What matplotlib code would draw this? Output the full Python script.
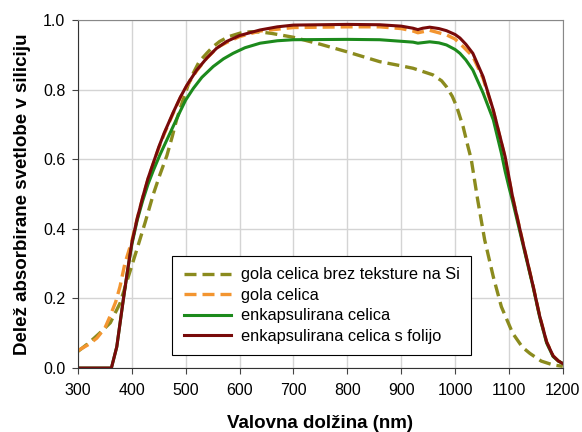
import matplotlib
matplotlib.use("Agg")
import matplotlib.pyplot as plt
import numpy as np

plt.rcParams['font.family'] = ['Liberation Sans', 'DejaVu Sans']

# gola celica brez teksture na Si
wl_a = [300, 320, 340, 360, 378, 393, 409, 425, 440, 452, 465, 475, 483, 495, 505, 514, 525, 539, 550, 563, 580,
        601, 620, 640, 660, 700, 750, 800, 860, 900, 922, 959, 975, 984, 995, 1003, 1015, 1024, 1030, 1042, 1055,
        1071, 1086, 1107, 1125, 1139, 1160, 1182, 1200]
val_a = [0.048, 0.072, 0.1, 0.13, 0.186, 0.26, 0.339, 0.42, 0.5, 0.555, 0.61, 0.665, 0.713, 0.77, 0.815, 0.847,
         0.88, 0.904, 0.922, 0.938, 0.952, 0.962, 0.966, 0.965, 0.961, 0.95, 0.93, 0.908, 0.88, 0.868, 0.861, 0.842,
         0.825, 0.808, 0.78, 0.751, 0.693, 0.636, 0.6, 0.483, 0.368, 0.262, 0.176, 0.1, 0.06, 0.042, 0.02, 0.009,
         0.005]

# gola celica
wl_b = [300, 320, 335, 350, 359, 370, 378, 387, 395, 400, 410, 420, 430, 440, 450, 460, 477, 490, 502, 520, 539,
        560, 576, 600, 638, 700, 800, 860, 900, 922, 931, 953, 984, 1000, 1015, 1033, 1052, 1071, 1090, 1107, 1126,
        1145, 1157, 1170, 1182, 1192, 1200]
val_b = [0.05, 0.068, 0.086, 0.115, 0.147, 0.19, 0.234, 0.3, 0.34, 0.365, 0.43, 0.488, 0.542, 0.588, 0.632, 0.672,
         0.733, 0.776, 0.81, 0.853, 0.89, 0.922, 0.935, 0.952, 0.968, 0.978, 0.98, 0.98, 0.975, 0.968, 0.963, 0.97,
         0.957, 0.945, 0.923, 0.895, 0.832, 0.738, 0.622, 0.49, 0.36, 0.235, 0.15, 0.075, 0.035, 0.02, 0.013]

# enkapsulirana celica
wl_c = [300, 362, 372, 384, 392, 400, 410, 420, 430, 440, 452, 470, 489, 500, 514, 530, 551, 570, 588, 610, 638,
        670, 700, 800, 860, 922, 931, 953, 970, 984, 1000, 1009, 1020, 1033, 1052, 1071, 1086, 1093, 1100, 1107,
        1126, 1145, 1157, 1170, 1182, 1192, 1200]
val_c = [0.0, 0.0, 0.061, 0.195, 0.28, 0.355, 0.425, 0.48, 0.528, 0.568, 0.612, 0.672, 0.735, 0.77, 0.803, 0.835,
         0.866, 0.888, 0.904, 0.92, 0.933, 0.94, 0.943, 0.944, 0.943, 0.936, 0.933, 0.937, 0.934, 0.928, 0.915,
         0.904, 0.885, 0.856, 0.79, 0.713, 0.617, 0.565, 0.52, 0.478, 0.355, 0.232, 0.147, 0.072, 0.033, 0.02, 0.013]

# enkapsulirana celica s folijo
wl_d = [300, 362, 372, 384, 392, 400, 410, 420, 430, 440, 450, 460, 477, 490, 502, 520, 539, 557, 576, 600, 638,
        670, 700, 800, 860, 900, 922, 931, 940, 953, 970, 984, 1000, 1009, 1020, 1033, 1052, 1071, 1093, 1107, 1126,
        1145, 1157, 1170, 1182, 1192, 1200]
val_d = [0.0, 0.0, 0.061, 0.195, 0.28, 0.36, 0.43, 0.49, 0.545, 0.59, 0.635, 0.675, 0.735, 0.778, 0.812, 0.855,
         0.89, 0.918, 0.938, 0.955, 0.971, 0.98, 0.985, 0.987, 0.986, 0.982, 0.976, 0.972, 0.976, 0.979, 0.975,
         0.969, 0.958, 0.948, 0.93, 0.904, 0.837, 0.741, 0.607, 0.49, 0.36, 0.235, 0.15, 0.075, 0.035, 0.02, 0.013]

labels = ['gola celica brez teksture na Si', 'gola celica', 'enkapsulirana celica',
          'enkapsulirana celica s folijo']

fig = plt.figure(figsize=(5.82, 4.32), dpi=100)
ax = fig.add_axes((0.134, 0.148, 0.833, 0.806))

dash = (0, (3.6, 1.8))
ax.plot(wl_a, val_a, color='#8b8b1e', lw=2.4, ls=dash, label=labels[0])
ax.plot(wl_b, val_b, color='#f39530', lw=2.4, ls=dash, label=labels[1])
ax.plot(wl_c, val_c, color='#1c8a1c', lw=2.2, label=labels[2])
ax.plot(wl_d, val_d, color='#780a0a', lw=2.2, label=labels[3])

ax.set_xlim(300, 1200)
ax.set_ylim(0, 1)
ax.set_xticks(np.arange(300, 1201, 100))
ax.set_yticks(np.arange(0, 1.01, 0.2))
ax.set_yticklabels(['%.1f' % v for v in np.arange(0, 1.01, 0.2)])
ax.grid(True, color='#d4d4d4', lw=1)
ax.set_axisbelow(True)
ax.tick_params(labelsize=11.5, length=4, color='#444444', pad=5)
ax.tick_params(axis='x', pad=7)
for s in ['top', 'right']:
    ax.spines[s].set_color('#888888')
for s in ['left', 'bottom']:
    ax.spines[s].set_color('#333333')

ax.set_xlabel('Valovna dolžina (nm)', fontsize=13.5, fontweight='bold', labelpad=12)
ax.set_ylabel('Delež absorbirane svetlobe v siliciju', fontsize=13.5, fontweight='bold', labelpad=9)

leg = ax.legend(loc='lower left', bbox_to_anchor=(0.194, 0.037), fontsize=11.8, fancybox=False,
                edgecolor='black', framealpha=1, handlelength=2.9, handletextpad=0.6, borderpad=0.7,
                labelspacing=0.33, borderaxespad=0)
leg.get_frame().set_linewidth(0.8)

fig.savefig('out.png', dpi=100)
